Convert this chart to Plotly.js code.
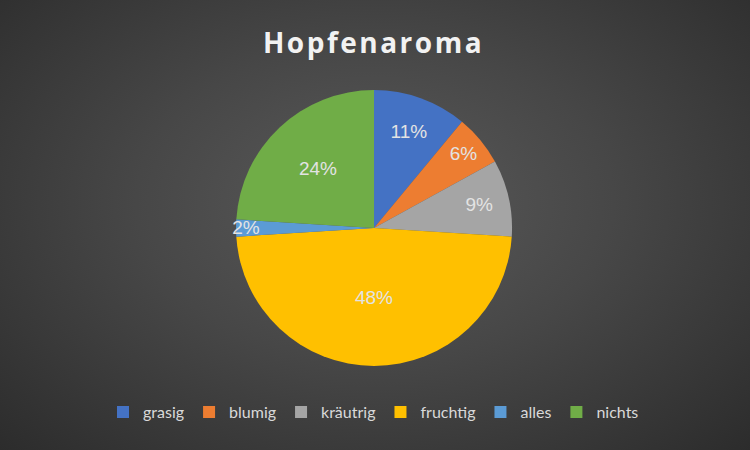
<!DOCTYPE html>
<html>
<head>
<meta charset="utf-8">
<script src="https://cdn.plot.ly/plotly-3.0.1.min.js"></script>
<style>
  html, body { margin: 0; padding: 0; }
  body {
    width: 750px; height: 450px; overflow: hidden;
    background: radial-gradient(ellipse at 50% 45%, #5a5a5a 0%, #474747 45%, #2c2c2c 100%);
  }
  #chart { width: 750px; height: 450px; }
  .gtitle { letter-spacing: 2.5px; }
</style>
</head>
<body>
<div id="chart"></div>
<script>
const labels = ["grasig", "blumig", "kräutrig", "fruchtig", "alles", "nichts"];
const shares = [11, 6, 9, 48, 2, 24];
const sliceColors = ["#4472C4", "#ED7D31", "#A5A5A5", "#FFC000", "#5B9BD5", "#70AD47"];

const trace = {
  type: "pie",
  labels: labels,
  values: shares,
  sort: false,
  direction: "clockwise",
  rotation: 0,
  marker: {
    colors: sliceColors,
    line: { color: "rgba(0,0,0,0)", width: 0 }
  },
  texttemplate: "%{percent:.0%}",
  textposition: "inside",
  insidetextorientation: "horizontal",
  textfont: { family: "Liberation Sans, Arial, sans-serif", size: 19, color: "#e3e3e3" },
  domain: { x: [0.3147, 0.6827], y: [0.1867, 0.8] },
  hoverinfo: "label+percent"
};

const layout = {
  width: 750,
  height: 450,
  paper_bgcolor: "rgba(0,0,0,0)",
  plot_bgcolor: "rgba(0,0,0,0)",
  margin: { l: 0, r: 0, t: 0, b: 0 },
  title: {
    text: "<b>Hopfenaroma</b>",
    x: 0.498,
    xanchor: "center",
    y: 0.903,
    yanchor: "middle",
    font: { family: "Open Sans, Lato, sans-serif", size: 28, color: "#f2f2f2" }
  },
  uniformtext: { mode: "show", minsize: 19 },
  showlegend: true,
  legend: {
    orientation: "h",
    x: 0.498,
    xanchor: "center",
    y: 0.084,
    yanchor: "middle",
    font: { family: "Lato, Open Sans, sans-serif", size: 16, color: "#d9d9d9" },
    itemwidth: 30,
    traceorder: "normal"
  }
};

Plotly.newPlot("chart", [trace], layout, { displayModeBar: false, staticPlot: true });
</script>
</body>
</html>
